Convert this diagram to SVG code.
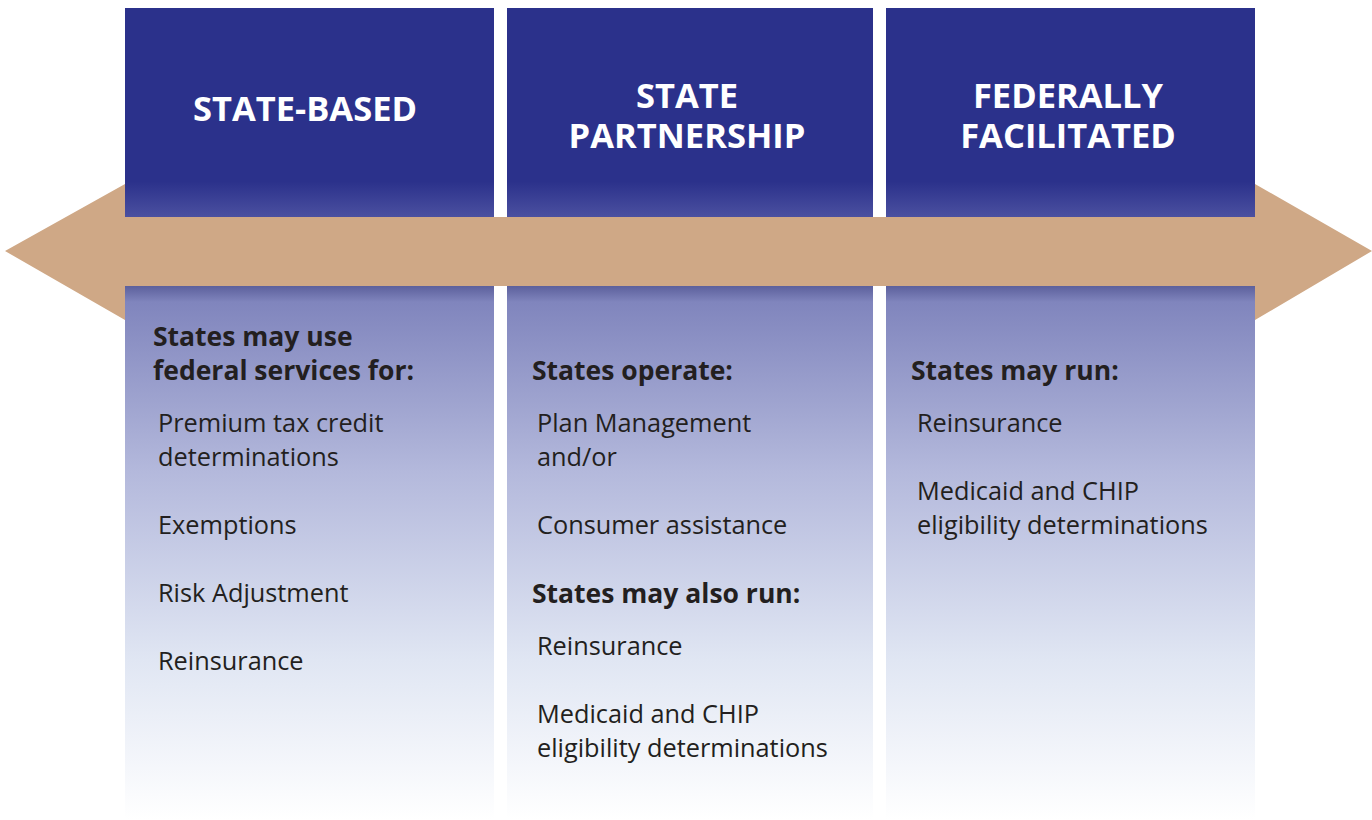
<svg xmlns="http://www.w3.org/2000/svg" width="1372" height="820" viewBox="0 0 1372 820">
<defs>
<linearGradient id="hdr" x1="0" y1="8" x2="0" y2="217" gradientUnits="userSpaceOnUse">
<stop offset="0" stop-color="#2B318B"/>
<stop offset="0.83" stop-color="#2B318B"/>
<stop offset="1" stop-color="#4B50A0"/>
</linearGradient>
<linearGradient id="body" x1="0" y1="286" x2="0" y2="820" gradientUnits="userSpaceOnUse">
<stop offset="0" stop-color="#5C609C"/>
<stop offset="0.03" stop-color="#8085BD"/>
<stop offset="0.35" stop-color="#B4B9DC"/>
<stop offset="0.7" stop-color="#E0E6F3"/>
<stop offset="1" stop-color="#FFFFFF"/>
</linearGradient>
<style>
.h{font-family:"Open Sans","Noto Sans",sans-serif;font-weight:bold;font-size:34.5px;fill:#FFFFFF;text-anchor:middle}
.b{font-family:"Open Sans","Noto Sans",sans-serif;font-weight:bold;font-size:26.5px;fill:#231F20}
.t{font-family:"Open Sans","Noto Sans",sans-serif;font-size:25.3px;fill:#231F20}
</style>
</defs>
<g id="arrow">
<polygon points="5,251 125,184 125,217 1255,217 1255,184 1372,251 1255,320 1255,286 125,286 125,320" fill="#CFA886"/>
</g>
<g id="state-based">
<rect x="125" y="8" width="369" height="209" fill="url(#hdr)"/>
<rect x="125" y="286" width="369" height="534" fill="url(#body)"/>
<text class="h" x="305" y="121">STATE-BASED</text>
<text class="b" x="153" y="346">States may use</text>
<text class="b" x="153" y="380">federal services for:</text>
<text class="t" x="158" y="432">Premium tax credit</text>
<text class="t" x="158" y="466">determinations</text>
<text class="t" x="158" y="534">Exemptions</text>
<text class="t" x="158" y="602">Risk Adjustment</text>
<text class="t" x="158" y="670">Reinsurance</text>
</g>
<g id="state-partnership">
<rect x="507" y="8" width="366" height="209" fill="url(#hdr)"/>
<rect x="507" y="286" width="366" height="534" fill="url(#body)"/>
<text class="h" x="687" y="108">STATE</text>
<text class="h" x="687" y="148">PARTNERSHIP</text>
<text class="b" x="532" y="380">States operate:</text>
<text class="t" x="537" y="432">Plan Management</text>
<text class="t" x="537" y="466">and/or</text>
<text class="t" x="537" y="534">Consumer assistance</text>
<text class="b" x="532" y="603">States may also run:</text>
<text class="t" x="537" y="655">Reinsurance</text>
<text class="t" x="537" y="723">Medicaid and CHIP</text>
<text class="t" x="537" y="757">eligibility determinations</text>
</g>
<g id="federally-facilitated">
<rect x="886" y="8" width="369" height="209" fill="url(#hdr)"/>
<rect x="886" y="286" width="369" height="534" fill="url(#body)"/>
<text class="h" x="1068" y="108">FEDERALLY</text>
<text class="h" x="1068" y="148">FACILITATED</text>
<text class="b" x="911" y="380">States may run:</text>
<text class="t" x="917" y="432">Reinsurance</text>
<text class="t" x="917" y="500">Medicaid and CHIP</text>
<text class="t" x="917" y="534">eligibility determinations</text>
</g>
<g id="connectors"/>
</svg>
